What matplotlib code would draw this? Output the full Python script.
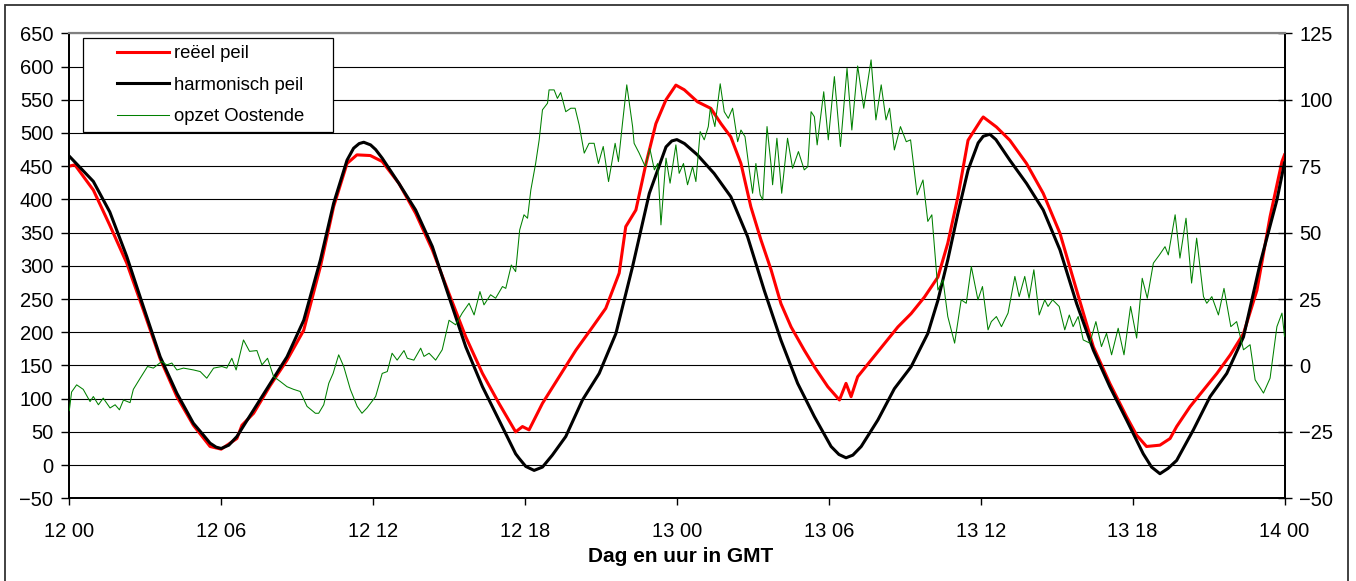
import numpy as np
import matplotlib
matplotlib.use("Agg")
import matplotlib.pyplot as plt
from matplotlib.legend_handler import HandlerLine2D
from matplotlib.patches import Rectangle

# ---------------- data (hours since 12 00 GMT) ----------------
x_tick_labels = ['12 00', '12 06', '12 12', '12 18', '13 00', '13 06', '13 12', '13 18', '14 00']
series_names = ['reëel peil', 'harmonisch peil', 'opzet Oostende']
x_label = 'Dag en uur in GMT'

harm_t = [0, 0.95, 1.6, 2.27, 2.93, 3.59, 4.25, 4.9, 5.3, 5.56, 5.8, 6.0, 6.3, 6.62, 7.28, 7.94, 8.6,
          9.26, 9.92, 10.44, 10.97, 11.23, 11.45, 11.63, 11.9, 12.1, 12.36, 13.02, 13.68, 14.34, 15.0,
          15.66, 16.32, 16.97, 17.63, 17.77, 18.03, 18.36, 18.69, 19.08, 19.61, 20.27, 20.93, 21.59,
          22.25, 22.91, 23.57, 23.8, 24.0, 24.3, 24.81, 25.47, 26.13, 26.79, 27.45, 28.11, 28.77,
          29.43, 30.09, 30.4, 30.68, 30.95, 31.28, 31.94, 32.59, 33.25, 33.91, 34.31, 34.7, 35.1,
          35.5, 35.9, 36.1, 36.36, 36.6, 37.15, 37.81, 38.47, 39.13, 39.79, 40.45, 41.1, 41.76,
          42.42, 42.75, 43.08, 43.4, 43.74, 44.4, 45.06, 45.72, 46.38, 47.04, 47.7, 48.0]
harm_v = [465, 427, 381, 314, 238, 163, 108, 63, 45, 33, 27, 25, 30, 43, 83, 123, 163,
          218, 309, 394, 459, 477, 484, 486, 482, 475, 462, 424, 384, 329, 253,
          178, 118, 68, 17, 10, -2, -8, -3, 15, 43, 98, 138, 198,
          299, 409, 479, 488, 490, 484, 467, 439, 404, 344, 263, 188, 123,
          73, 28, 16, 11, 15, 28, 68, 115, 148, 198, 248, 309, 379,
          444, 485, 495, 498, 490, 459, 424, 384, 324, 243, 173, 118, 68,
          17, -3, -13, -5, 7, 53, 103, 138, 193, 304, 399, 455]

real_t = [0, 0.22, 0.95, 1.6, 2.27, 2.93, 3.59, 4.25, 4.9, 5.56, 6.0, 6.62, 6.82, 7.28, 7.94, 8.6,
          9.26, 9.92, 10.44, 10.97, 11.36, 11.89, 12.36, 13.02, 13.68, 14.34, 15.0, 15.66, 16.32,
          16.97, 17.63, 17.9, 18.16, 18.69, 19.35, 20.01, 20.67, 21.19, 21.72, 21.98, 22.38, 22.78,
          23.17, 23.57, 23.96, 24.29, 24.81, 25.34, 25.74, 26.13, 26.53, 26.92, 27.32, 27.72, 28.11,
          28.51, 29.03, 29.43, 29.96, 30.42, 30.68, 30.88, 31.14, 31.67, 32.2, 32.73, 33.25, 33.78,
          34.31, 34.7, 35.1, 35.5, 36.02, 36.1, 36.62, 37.15, 37.81, 38.47, 39.13, 39.79, 40.45,
          41.1, 41.76, 42.16, 42.55, 43.08, 43.48, 43.74, 44.27, 44.8, 45.33, 45.86, 46.38, 46.91,
          47.43, 47.9, 48.0]
real_v = [450, 452, 414, 361, 304, 233, 160, 103, 60, 28, 24, 40, 60, 78, 120, 158,
          203, 299, 389, 454, 467, 466, 457, 424, 379, 324, 258, 193, 138,
          93, 50, 58, 53, 93, 133, 173, 208, 236, 289, 359, 384, 454,
          514, 550, 572, 565, 547, 537, 514, 494, 454, 389, 339, 294, 243,
          208, 173, 148, 118, 98, 123, 103, 133, 158, 183, 208, 228, 253,
          283, 334, 404, 489, 520, 524, 509, 489, 454, 409, 349, 263, 178,
          123, 73, 45, 28, 30, 40, 58, 88, 113, 138, 166, 198, 263,
          374, 457, 467]

surge_t = [0.0, 0.09, 0.29, 0.55, 0.82, 0.95, 1.15, 1.34, 1.61, 1.81, 1.98, 2.14, 2.40, 2.53, 2.80,
           3.09, 3.32, 3.65, 3.85, 4.05, 4.25, 4.51, 4.91, 5.17, 5.43, 5.70, 6.03, 6.22, 6.42, 6.59,
           6.88, 7.12, 7.41, 7.61, 7.83, 8.07, 8.33, 8.60, 8.86, 9.12, 9.39, 9.72, 9.85, 10.05, 10.25,
           10.42, 10.64, 10.84, 11.10, 11.37, 11.56, 11.76, 12.10, 12.36, 12.56, 12.75, 12.95, 13.22,
           13.35, 13.61, 13.88, 14.01, 14.21, 14.47, 14.73, 15.00, 15.26, 15.52, 15.79, 15.99, 16.22,
           16.38, 16.64, 16.84, 17.11, 17.24, 17.46, 17.63, 17.79, 17.96, 18.10, 18.23, 18.42, 18.56,
           18.69, 18.89, 18.95, 19.15, 19.28, 19.41, 19.61, 19.81, 19.98, 20.14, 20.34, 20.53, 20.73,
           20.90, 21.09, 21.30, 21.56, 21.69, 21.85, 22.02, 22.25, 22.31, 22.51, 22.75, 22.93, 23.11,
           23.24, 23.37, 23.57, 23.73, 23.96, 24.09, 24.26, 24.42, 24.62, 24.75, 24.92, 25.08, 25.24,
           25.32, 25.50, 25.71, 25.87, 26.03, 26.20, 26.40, 26.53, 26.69, 26.86, 26.99, 27.12, 27.29,
           27.39, 27.56, 27.72, 27.78, 27.95, 28.14, 28.37, 28.57, 28.80, 29.03, 29.17, 29.30, 29.43,
           29.54, 29.80, 29.98, 30.22, 30.46, 30.72, 30.91, 31.14, 31.38, 31.67, 31.86, 32.07, 32.26,
           32.40, 32.59, 32.83, 33.06, 33.23, 33.49, 33.72, 33.91, 34.07, 34.31, 34.51, 34.70, 34.97,
           35.23, 35.43, 35.63, 35.89, 36.07, 36.29, 36.42, 36.62, 36.82, 37.08, 37.35, 37.52, 37.74,
           37.91, 38.10, 38.31, 38.53, 38.66, 38.84, 39.10, 39.32, 39.50, 39.65, 39.85, 40.05, 40.31,
           40.55, 40.77, 40.97, 41.17, 41.43, 41.66, 41.92, 42.16, 42.38, 42.58, 42.82, 43.06, 43.28,
           43.41, 43.68, 43.87, 44.11, 44.33, 44.53, 44.80, 44.93, 45.13, 45.39, 45.61, 45.88, 46.11,
           46.38, 46.64, 46.84, 47.17, 47.43, 47.70, 47.90, 48.0]
surge_v = [-17, -10, -7.3, -9, -13.6, -11.7, -14.8, -12.3, -16, -14.8, -16.7, -13, -14, -9, -4.8,
           -0.4, -1, 1.5, 0.2, 0.9, -1.7, -1, -1.7, -2.3, -4.8, -1, -0.4, -1, 2.7, -1.7,
           9.6, 5.3, 5.6, 0.2, 2.7, -4.2, -6, -8, -9, -9.8, -15.4, -18, -18, -14.8, -6.7,
           -3, 4, -0.4, -9, -15.4, -18, -16, -11.7, -3, -2.3, 4.6, 2, 5.6,
           2.7, 2, 6.5, 3.4, 4.6, 2, 5.9, 17, 15.3, 19.7, 23.4, 19, 27.8,
           22.8, 26.6, 25.3, 29.7, 29, 37.8, 35.3, 51, 56.7, 55.4, 66, 76, 84.9,
           96.2, 98.7, 103.7, 103.7, 100.5, 102.7, 95.5, 96.8, 96.8, 90.5, 79.9, 83.6, 83.6,
           76, 82.4, 69.2, 83.6, 76.7, 91.1, 105.6, 89.9, 83.6, 79.9, 74.8, 81.7, 73.6,
           76, 52.9, 78, 68.6, 83, 72.3, 76, 68, 74.8, 69.2, 88, 84.9, 89.9,
           96.8, 89.9, 106, 95.5, 93, 96.8, 84.2, 88.6, 86.1, 73.6, 64.8, 76, 64.2,
           62.3, 89.9, 75.4, 68, 85.5, 64.8, 85.5, 74.2, 80.5, 73.6, 74.8, 95.5, 93.6,
           83, 103, 84.9, 108.7, 82.4, 111.8, 88.6, 112.7, 96.8, 115, 92.4, 105.6, 92.4,
           96.8, 81.1, 89.9, 84.2, 84.9, 64.2, 69.8, 54.2, 56.7, 28.4, 32.2, 18.4, 8.4,
           24.7, 23.4, 37.2, 24.7, 29.7, 13.4, 16.5, 18.4, 14.6, 19.7, 33.5, 25.9, 33.5,
           25.3, 36, 19, 24.7, 22.2, 24.7, 22.2, 13.4, 19, 14.6, 18.4, 9.6, 8.4,
           16.5, 7.1, 12.1, 4, 14, 4, 22.2, 10.3, 32.8, 25.3, 38.5, 41.6, 44.7,
           41.6, 56.7, 40.4, 55.4, 31, 47.9, 25.9, 23.4, 25.9, 19, 29, 14.6, 16.5,
           5.9, 7.8, -5.4, -10.4, -4.8, 14.6, 19.7, 11]

# ---------------- figure ----------------
W, H = 1356, 581
fig = plt.figure(figsize=(W / 100, H / 100), dpi=100)
plt.rcParams['font.family'] = ['Liberation Sans', 'DejaVu Sans']

L, R, T, B = 69.3, 1284.5, 33.3, 498.3
ax = fig.add_axes([L / W, 1 - B / H, (R - L) / W, (B - T) / H])
ax2 = ax.twinx()

ax.plot(real_t, real_v, color='#ff0000', lw=2.2, label=series_names[0], zorder=3,
        solid_joinstyle='round')
ax.plot(harm_t, harm_v, color='#000000', lw=2.2, label=series_names[1], zorder=4,
        solid_joinstyle='round')
ax2.plot(surge_t, surge_v, color='#008000', lw=0.75, label=series_names[2], zorder=3)

ax.set_xlim(0, 48)
ax.set_ylim(-50, 650)
ax2.set_ylim(-50, 125)
ax.set_xticks(np.arange(0, 49, 6))
ax.set_xticklabels(x_tick_labels)
ax.set_yticks(np.arange(-50, 651, 50))
ax2.set_yticks(np.arange(-50, 126, 25))

ax.grid(axis='y', color='black', lw=0.8)
ax.set_axisbelow(True)

fs_tick = 14.5
ax.tick_params(axis='y', direction='out', length=5.5, width=1, pad=6, labelsize=fs_tick, colors='black')
ax.tick_params(axis='x', direction='out', length=5, width=1, pad=12, labelsize=fs_tick, colors='black')
ax2.tick_params(axis='y', direction='inout', length=9.5, width=1, pad=6, labelsize=fs_tick, colors='black')

for a in (ax, ax2):
    for s in ('left', 'right', 'bottom'):
        a.spines[s].set_color('black')
        a.spines[s].set_linewidth(1.3)
    a.spines['top'].set_color('#808080')
    a.spines['top'].set_linewidth(1.5)

ax.set_xlabel(x_label, fontsize=15, fontweight='bold')
ax.xaxis.label.set_va('baseline')
ax.xaxis.set_label_coords(0.503, (B - 561.7) / (B - T))

# ---------------- legend ----------------
class RightLine(HandlerLine2D):
    def get_xdata(self, legend, xdescent, ydescent, width, height, fontsize):
        xd, xm = super().get_xdata(legend, xdescent, ydescent, width, height, fontsize)
        return np.array([-xdescent + 0.34 * width, -xdescent + width]), xm

h1, l1 = ax.get_legend_handles_labels()
h2, l2 = ax2.get_legend_handles_labels()
lx0 = (82.7 - L) / (R - L)
lx1 = (333 - L) / (R - L)
ly1 = (B - 38.3) / (B - T)
ly0 = (B - 131) / (B - T)
leg = ax2.legend(h1 + h2, l1 + l2, loc='upper left',
                 bbox_to_anchor=(lx0, ly0, lx1 - lx0, ly1 - ly0), mode='expand',
                 borderaxespad=0, fontsize=13.3, frameon=True, fancybox=False,
                 edgecolor='black', framealpha=1, borderpad=0.38, labelspacing=0.78,
                 handlelength=4.3, handletextpad=0.25,
                 handler_map={matplotlib.lines.Line2D: RightLine()})
leg.get_frame().set_linewidth(0.9)

# outer chart border (bottom edge lies outside the picture)
fig.patches.append(Rectangle((5 / W, -0.05), (1348 - 5) / W, 1 - 5 / H + 0.05,
                             transform=fig.transFigure, fill=False,
                             edgecolor='#333333', lw=1.3, zorder=0))

fig.savefig('out.png', dpi=100, facecolor='white')
